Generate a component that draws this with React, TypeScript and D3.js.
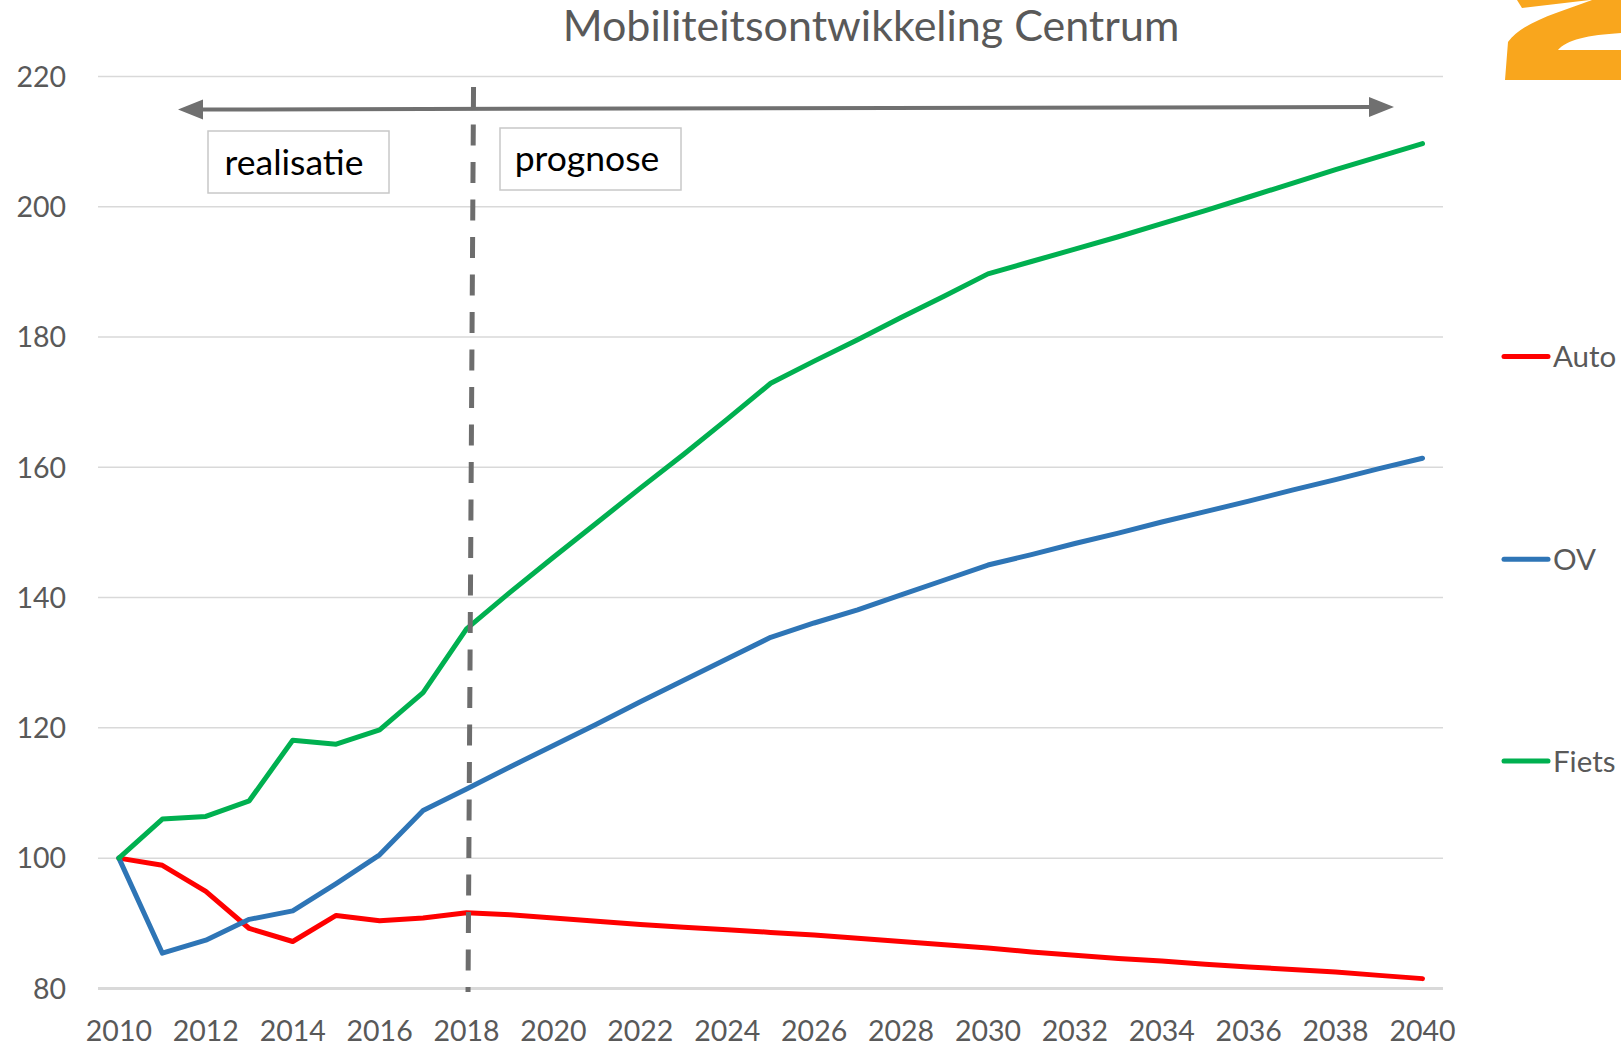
import React from "react";
import * as d3 from "d3";

const years: number[] = d3.range(2010, 2041);
const auto: number[] = [100, 98.9, 94.9, 89.2, 87.2, 91.2, 90.4, 90.8, 91.6, 91.3, 90.8, 90.3, 89.8, 89.4, 89.0, 88.6, 88.2, 87.7, 87.2, 86.7, 86.2, 85.6, 85.1, 84.6, 84.2, 83.7, 83.3, 82.9, 82.5, 82.0, 81.5];
const ov: number[] = [100, 85.4, 87.4, 90.6, 91.9, 96.1, 100.5, 107.3, 110.6, 114.0, 117.3, 120.6, 124.0, 127.3, 130.6, 133.9, 136.1, 138.1, 140.4, 142.7, 145.0, 146.6, 148.3, 149.9, 151.6, 153.2, 154.8, 156.5, 158.1, 159.8, 161.4];
const fiets: number[] = [100, 106.0, 106.4, 108.8, 118.1, 117.5, 119.7, 125.4, 135.2, 140.8, 146.2, 151.5, 156.8, 162.0, 167.4, 172.9, 176.3, 179.6, 183.0, 186.3, 189.7, 191.6, 193.5, 195.4, 197.4, 199.4, 201.5, 203.6, 205.7, 207.7, 209.7];
const yTicks: number[] = [80, 100, 120, 140, 160, 180, 200, 220];
const xTicks: number[] = d3.range(2010, 2041, 2);
const seriesNames = ["Auto", "OV", "Fiets"];
const seriesColors = ["#FF0000", "#2E75B6", "#00B050"];
const legendValues = [177.0, 145.9, 114.9];
const title = "Mobiliteitsontwikkeling Centrum";
const labelRealisatie = "realisatie";
const labelPrognose = "prognose";
const splitYear = 2018;

export default function App() {
  const W = 1621, H = 1046;
  const x = d3.scaleLinear().domain([2010, 2040]).range([118.9, 1422.5]);
  const y = d3.scaleLinear().domain([80, 220]).range([988.4, 76.5]);
  const line = d3.line<number>().x((_, i) => x(years[i])).y((d) => y(d));
  const data = [auto, ov, fiets];
  const font = "Lato, 'Open Sans', sans-serif";
  const gridX0 = 98, gridX1 = 1443;
  const arrowY0 = 109.5, arrowY1 = 107;
  const ax0 = 178, ax1 = 1394;
  const sx = x(splitYear);

  return (
    <svg width={W} height={H} style={{ position: "absolute", left: 0, top: 0, background: "#fff" }}>
      {/* orange logo fragment */}
      <path d="M1505,80 L1621,80 L1621,50 L1558,50 C1566,40 1588,35 1621,33 L1621,0 L1592,0 C1560,12 1522,22 1508,42 Z" fill="#F9A61D" />
      <path d="M1517,0 L1590,0 L1522,8 Z" fill="#F9A61D" />

      {/* title */}
      <text x={871} y={41} textAnchor="middle" fontFamily={font} fontSize={43} fill="#595959">{title}</text>

      {/* gridlines */}
      {yTicks.map((t) => (
        <line key={t} x1={gridX0} x2={gridX1} y1={y(t)} y2={y(t)} stroke="#d9d9d9" strokeWidth={t === 80 ? 3 : 1.5} />
      ))}
      {yTicks.map((t) => (
        <text key={"l" + t} x={66} y={y(t)} dy="0.36em" textAnchor="end" fontFamily={font} fontSize={28.5} fill="#595959">{t}</text>
      ))}
      {xTicks.map((t) => (
        <text key={"x" + t} x={x(t)} y={1041} textAnchor="middle" fontFamily={font} fontSize={28.5} fill="#595959">{t}</text>
      ))}

      {/* series */}
      {data.map((d, i) => (
        <path key={seriesNames[i]} d={line(d) || ""} fill="none" stroke={seriesColors[i]} strokeWidth={5} strokeLinejoin="round" strokeLinecap="round" />
      ))}

      {/* dashed split line */}
      <line x1={sx + 7} y1={87} x2={sx + 1.5} y2={992} stroke="#6d6d6d" strokeWidth={5} strokeDasharray="21 16.5" />

      {/* arrow */}
      <line x1={ax0 + 20} y1={arrowY0} x2={ax1 - 20} y2={arrowY1} stroke="#707070" strokeWidth={4} />
      <path d={`M${ax0},${arrowY0} L${ax0 + 25},${arrowY0 - 10} L${ax0 + 25},${arrowY0 + 10} Z`} fill="#707070" />
      <path d={`M${ax1},${arrowY1} L${ax1 - 25},${arrowY1 - 10} L${ax1 - 25},${arrowY1 + 10} Z`} fill="#707070" />

      {/* boxes */}
      <rect x={208} y={131} width={181} height={62} fill="#fff" stroke="#c8c8c8" strokeWidth={1.5} />
      <text x={294} y={175} textAnchor="middle" fontFamily={font} fontSize={35.5} fill="#000">{labelRealisatie}</text>
      <rect x={500} y={128} width={181} height={62} fill="#fff" stroke="#c8c8c8" strokeWidth={1.5} />
      <text x={587} y={171} textAnchor="middle" fontFamily={font} fontSize={35.5} fill="#000">{labelPrognose}</text>

      {/* legend */}
      {seriesNames.map((n, i) => (
        <g key={"lg" + n}>
          <line x1={1504} x2={1548} y1={y(legendValues[i])} y2={y(legendValues[i])} stroke={seriesColors[i]} strokeWidth={5} strokeLinecap="round" />
          <text x={1553} y={y(legendValues[i])} dy="0.36em" fontFamily={font} fontSize={29.5} fill="#595959">{n}</text>
        </g>
      ))}
    </svg>
  );
}
